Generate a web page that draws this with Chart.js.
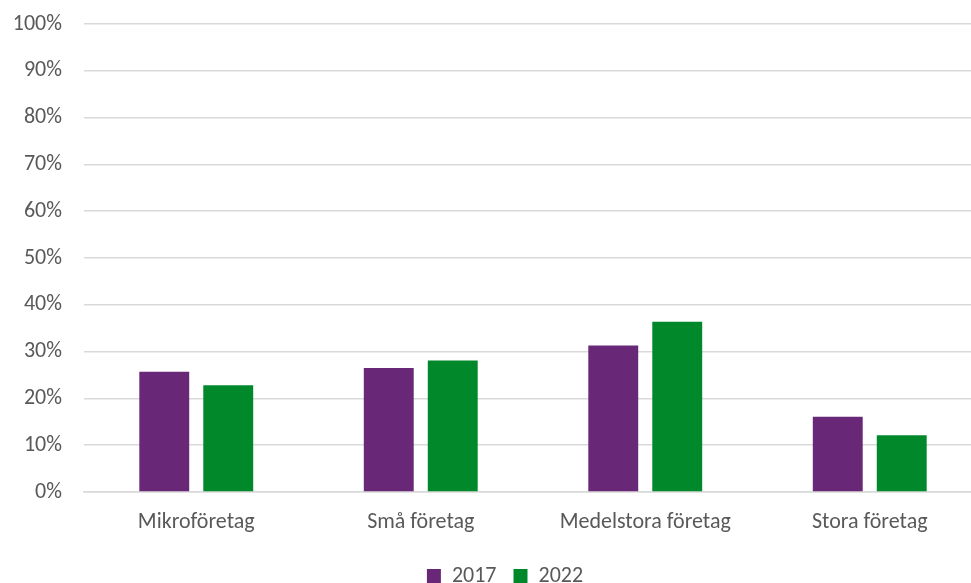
<!DOCTYPE html>
<html>
<head>
<meta charset="utf-8">
<script src="https://cdn.jsdelivr.net/npm/chart.js@4"></script>
<style>
  html, body { margin: 0; padding: 0; background: #fff; overflow: hidden; }
  #wrap { width: 1010px; height: 583px; position: relative; }
</style>
</head>
<body>
<div id="wrap"><canvas id="c" width="1010" height="583"></canvas></div>
<script>
const categories = ["Mikroföretag", "Små företag", "Medelstora företag", "Stora företag"];
const seriesNames = ["2017", "2022"];
const values2017 = [25.7, 26.5, 31.3, 16.1];
const values2022 = [22.8, 28.1, 36.4, 12.1];
const yTicks = [0, 10, 20, 30, 40, 50, 60, 70, 80, 90, 100];

const textColor = "#595959";
const fontFamily = "Carlito, Lato, 'Liberation Sans', sans-serif";
const fontSize = 22;

// Shift the bottom legend so it is centred like the original
const legendShift = {
  id: "legendShift",
  afterLayout(chart) {
    const l = chart.legend;
    if (l) { l.left += 14; l.right += 14; }
  }
};

new Chart(document.getElementById("c"), {
  type: "bar",
  data: {
    labels: categories,
    datasets: [
      { label: seriesNames[0], data: values2017, backgroundColor: "#692877", barPercentage: 0.78, categoryPercentage: 0.57 },
      { label: seriesNames[1], data: values2022, backgroundColor: "#00882B", barPercentage: 0.78, categoryPercentage: 0.57 }
    ]
  },
  plugins: [legendShift],
  options: {
    responsive: false,
    animation: false,
    layout: { padding: { left: 0, right: 28, top: 24, bottom: -14 } },
    plugins: {
      legend: {
        position: "bottom",
        labels: {
          color: textColor,
          font: { family: fontFamily, size: fontSize },
          boxWidth: 14,
          boxHeight: 14,
          padding: 17
        }
      },
      tooltip: { enabled: false }
    },
    scales: {
      x: {
        grid: { display: false, drawTicks: false },
        border: { display: true, color: "#D9D9D9", width: 1.5 },
        ticks: { color: textColor, font: { family: fontFamily, size: fontSize }, padding: 17 },
        afterFit: (s) => { s.height = 56; }
      },
      y: {
        min: 0,
        max: 100,
        afterBuildTicks: (s) => { s.ticks = yTicks.map(v => ({ value: v })); },
        grid: { color: "#D9D9D9", lineWidth: 1.5, drawTicks: false },
        border: { display: false },
        ticks: {
          color: textColor,
          font: { family: fontFamily, size: fontSize },
          padding: 22,
          callback: (v) => v + "%"
        },
        afterFit: (s) => { s.width = 84; s.paddingTop = 0; s.paddingBottom = 0; }
      }
    }
  }
});
</script>
</body>
</html>
